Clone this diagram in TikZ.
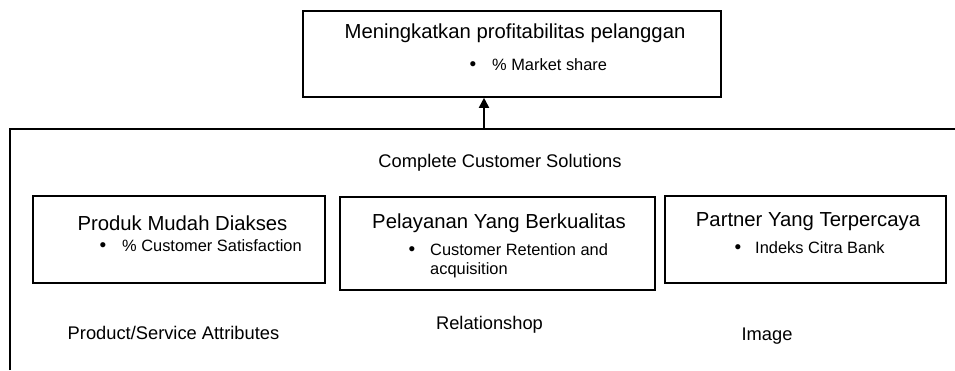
\documentclass[tikz,border=0pt]{standalone}
\usepackage{fontspec}
\setmainfont{Liberation Sans}
\usetikzlibrary{arrows.meta}
\begin{document}
\begin{tikzpicture}[x=1pt,y=-1pt,
  frame/.style={draw,line width=1.8pt},
  box/.style={draw,line width=1.6pt,inner sep=0pt,rectangle},
  title/.style={inner sep=0pt,font=\fontsize{20.3}{24}\selectfont},
  label/.style={inner sep=0pt,font=\fontsize{18.3}{22}\selectfont},
  item/.style={inner sep=0pt,anchor=west,font=\fontsize{16.4}{20}\selectfont},
  dot/.style={inner sep=0pt,anchor=base,font=\fontsize{19}{20}\selectfont}]
\useasboundingbox (0,0) rectangle (955,370);

% goal box
\node[box,minimum width=418pt,minimum height=86pt] (goal) at (512,54) {};
\node[title] (goalT) at (515,33) {Meningkatkan profitabilitas pelanggan};
\node[item] (goalI) at (492,65) {\% Market share};
\node[dot] (goalB) at ([xshift=-19pt]goalI.base west) {\textbullet};

% outer frame of the customer solutions block
\coordinate (fTL) at (10,129);
\coordinate (fBL) at (10,370);
\coordinate (fTR) at (955,129);
\draw[frame] (fBL) -- (fTL) -- (fTR);
\coordinate (join) at (484,129);
\draw[line width=1.8pt,-{Triangle[length=10pt,width=10pt]}] (join) -- (join |- goal.south);

\node[label] (ccs) at (500,163) {Complete Customer Solutions};

% three value boxes
\node[box,minimum width=292pt,minimum height=87pt] (b1) at (179,239.5) {};
\node[box,minimum width=315pt,minimum height=93pt] (b2) at (497.5,243.5) {};
\node[box,minimum width=281pt,minimum height=87pt] (b3) at (805.5,239.5) {};

\node[title] (b1T) at (182.5,223) {Produk Mudah Diakses};
\node[item] (b1I) at (122,246) {\% Customer Satisfaction};
\node[dot] (b1B) at ([xshift=-19pt]b1I.base west) {\textbullet};

\node[title] (b2T) at (499,223) {Pelayanan Yang Berkualitas};
\node[item] (b2I) at (430,250) {Customer Retention and};
\node[item] (b2J) at (430,270) {acquisition};
\node[dot] (b2B) at ([xshift=-18pt]b2I.base west) {\textbullet};

\node[title] (b3T) at (808,222) {Partner Yang Terpercaya};
\node[item] (b3I) at (755,248) {Indeks Citra Bank};
\node[dot] (b3B) at ([xshift=-17pt]b3I.base west) {\textbullet};

% perspective labels
\node[label] (l1) at (173.5,333) {Product/Service Attributes};
\node[label] (l2) at (489.5,325) {Relationshop};
\node[label] (l3) at (767,336) {Image};
\end{tikzpicture}
\end{document}
